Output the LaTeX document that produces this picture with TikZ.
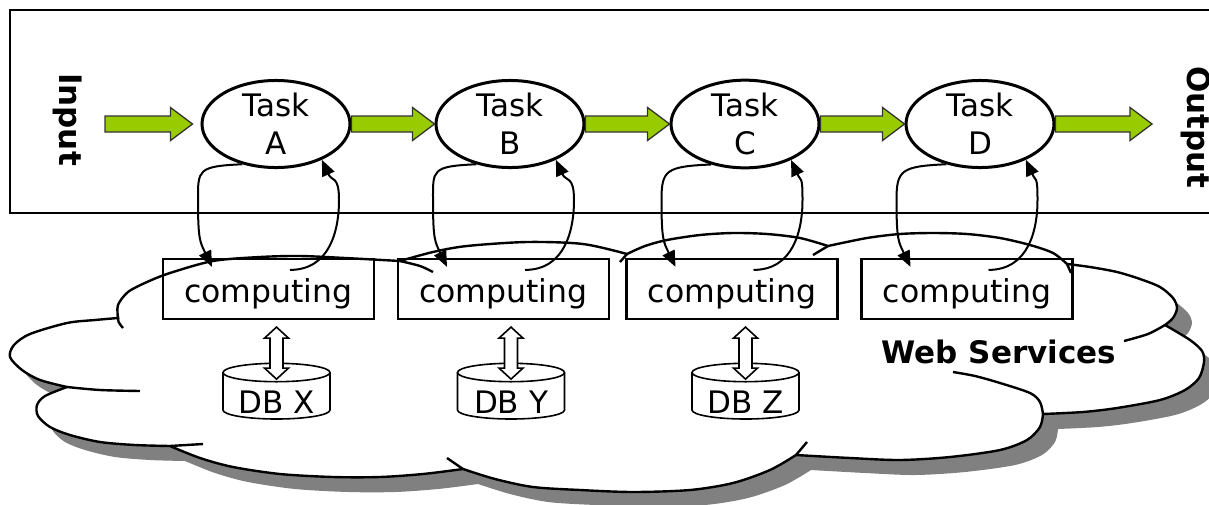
\documentclass[tikz,border=0pt]{standalone}
\usepackage{fontspec}
\setmainfont{DejaVu Sans}
\usetikzlibrary{shapes.geometric,arrows.meta,calc}
\definecolor{grn}{HTML}{99CC00}
\definecolor{shd}{HTML}{808080}

\newcommand{\cloudshape}[1]{%
\path[#1]
 plot[smooth] coordinates {(118,318) (118,305) (128,292) (147,282) (170,273) (213,261) (260,257) (300,256) (345,258) (400,261)}
 -- plot[smooth] coordinates {(400,261) (433,252) (467,246) (527,242) (583,244) (627,254)}
 -- plot[smooth] coordinates {(627,254) (645,246) (667,240) (700,235) (733,233) (767,234) (800,238) (828,246)}
 -- plot[smooth] coordinates {(828,246) (867,238) (900,234) (933,233) (967,234) (1000,238) (1030,245) (1053,253) (1067,264)}
 -- plot[smooth] coordinates {(1067,264) (1090,267) (1117,272) (1140,279) (1160,287) (1173,298) (1177,308) (1173,318) (1165,325)}
 -- plot[smooth] coordinates {(1165,325) (1190,340) (1202,351) (1204,362) (1199,378) (1185,390) (1160,400) (1117,408) (1083,412) (1043,414)}
 -- plot[smooth] coordinates {(1043,414) (1040,427) (1027,440) (1000,450) (950,457) (900,460) (850,458) (796,455)}
 -- plot[smooth] coordinates {(796,455) (770,470) (733,483) (690,490) (633,492) (580,490) (533,487) (495,479) (463,469)}
 -- plot[smooth] coordinates {(463,469) (423,474) (380,477) (333,477) (280,474) (233,467) (200,458) (170,446)}
 -- plot[smooth] coordinates {(170,446) (135,445) (100,442) (70,435) (50,427) (38,416) (37,405) (45,396) (67,387)}
 -- plot[smooth] coordinates {(67,387) (40,380) (22,370) (10,357) (14,345) (30,334) (67,323) (95,320) (118,318)}
 -- cycle;}

\newcommand{\greenarrow}[2]{%
\filldraw[garrow] let \p1=(#1), \p2=(#2) in
 (\x1,\y1-8pt) -- (\x2-22pt,\y1-8pt) -- (\x2-22pt,\y1-16.5pt) -- (\x2,\y1)
 -- (\x2-22pt,\y1+16.5pt) -- (\x2-22pt,\y1+8pt) -- (\x1,\y1+8pt) -- cycle;}

\newcommand{\dblarr}[2]{%
\filldraw[dblarrow] let \p1=(#1.south), \p2=(#2.base) in
 (\x2,\y1-7pt) -- (\x2+12pt,\y1-18pt) -- (\x2+6.5pt,\y1-18pt) -- (\x2+6.5pt,\y1-48pt)
 -- (\x2+12pt,\y1-48pt) -- (\x2,\y1-59pt) -- (\x2-12pt,\y1-48pt) -- (\x2-6.5pt,\y1-48pt)
 -- (\x2-6.5pt,\y1-18pt) -- (\x2-12pt,\y1-18pt) -- cycle;}

\newcommand{\dbcyl}[1]{%
\draw[line width=1.6pt,fill=white] (#1-53.5,372.5) -- (#1-53.5,410)
  arc[start angle=180,end angle=360,x radius=53.5pt,y radius=9pt] -- (#1+53.5,372.5);
\draw[line width=1.6pt,fill=white] (#1,372.5) ellipse[x radius=53.5pt,y radius=9.2pt];}

\newcommand{\links}[2]{%
\draw[link] (#1.230) .. controls +(-45,2) and +(0,-30) .. ([shift={(-70.5pt,89pt)}]#2.center)
  .. controls +(0,40) and +(-12,-25) .. ([xshift=-56.5pt,yshift=-9pt]#2.north);
\draw[link] ([xshift=21.5pt,yshift=-12pt]#2.north) .. controls +(40,0) and +(0,30) .. ([shift={(70.5pt,89pt)}]#2.center)
  .. controls +(0,-25) and +(10,22) .. (#1.322);}

\begin{document}
\begin{tikzpicture}[x=1pt,y=-1pt,
  task/.style={ellipse,draw,line width=3pt,fill=white,minimum width=148pt,minimum height=82pt,inner sep=0pt,align=center,font=\fontsize{31}{38}\selectfont},
  comp/.style={rectangle,draw,line width=2.2pt,minimum width=211pt,minimum height=60pt,inner sep=0pt,text height=32pt,text depth=6pt,font=\fontsize{31.5}{38}\selectfont},
  dbtext/.style={inner sep=0pt,font=\fontsize{31}{38}\selectfont,anchor=base},
  link/.style={line width=2pt,-{Triangle[length=16pt,width=13pt]}},
  garrow/.style={fill=grn,draw=black!80,line width=1.3pt},
  dblarrow/.style={fill=white,draw,line width=1.6pt},
  cloudline/.style={line width=2.4pt},
  side/.style={font=\fontsize{31}{38}\selectfont\bfseries,rotate=-90,inner sep=0pt}
]
\useasboundingbox (0,0) rectangle (1209,504);
\clip (0,0) rectangle (1209,504);

% frame
\draw[line width=2.5pt] (10,10) rectangle (1230,213);

% cloud
\cloudshape{fill=shd,shift={(15,15)}}
\cloudshape{fill=white,draw,cloudline}
\draw[cloudline] (118,316) .. controls (118,322) .. (123,328);
\draw[cloudline] plot[smooth] coordinates {(400,261) (420,266) (433,272)};
\draw[cloudline] (627,254) -- (620,262);
\draw[cloudline] (828,246) -- (813,255);
\draw[cloudline] (1067,264) -- (1071,273);
\draw[cloudline] plot[smooth] coordinates {(1165,325) (1148,334) (1124,341)};
\draw[cloudline] plot[smooth] coordinates {(1043,414) (1040,402) (1030,393) (1000,383) (975,376) (953,372)};
\draw[cloudline] (796,455) -- (807,442);
\draw[cloudline] (463,469) -- (447,458);
\draw[cloudline] (170,446) -- (203,444);
\draw[cloudline] plot[smooth] coordinates {(67,387) (100,390) (140,391)};

% computing boxes
\node[comp] (cA) at (268.5,289) {computing};
\node[comp] (cB) at (503.5,289) {computing};
\node[comp] (cC) at (732,289) {computing};
\node[comp] (cD) at (967,289) {computing};

% databases
\dbcyl{276.5}
\dbcyl{511}
\dbcyl{745.5}
\node[dbtext] (dX) at (276.5,413) {DB X};
\node[dbtext] (dY) at (511,413) {DB Y};
\node[dbtext] (dZ) at (745.5,413) {DB Z};
\dblarr{cA}{dX}
\dblarr{cB}{dY}
\dblarr{cC}{dZ}

% tasks
\node[task] (tA) at (276,124) {Task\\A};
\node[task] (tB) at (510,124) {Task\\B};
\node[task] (tC) at (745,124) {Task\\C};
\node[task] (tD) at (980,124) {Task\\D};

\coordinate (inL) at (105,124);
\coordinate (outR) at (1152,124);
\greenarrow{inL}{[xshift=-8pt]tA.west}
\greenarrow{tA.east}{tB.west}
\greenarrow{tB.east}{tC.west}
\greenarrow{tC.east}{tD.west}
\greenarrow{tD.east}{outR}

% task <-> computing links
\links{tA}{cA}
\links{tB}{cB}
\links{tC}{cC}
\links{tD}{cD}

% labels
\node[side] (inp) at (68,119.5) {Input};
\node[side] (outp) at (1196,127.5) {Output};
\node[font=\fontsize{31}{38}\selectfont\bfseries,anchor=base,inner sep=0pt] (ws) at (999,363) {Web Services};
\end{tikzpicture}
\end{document}
